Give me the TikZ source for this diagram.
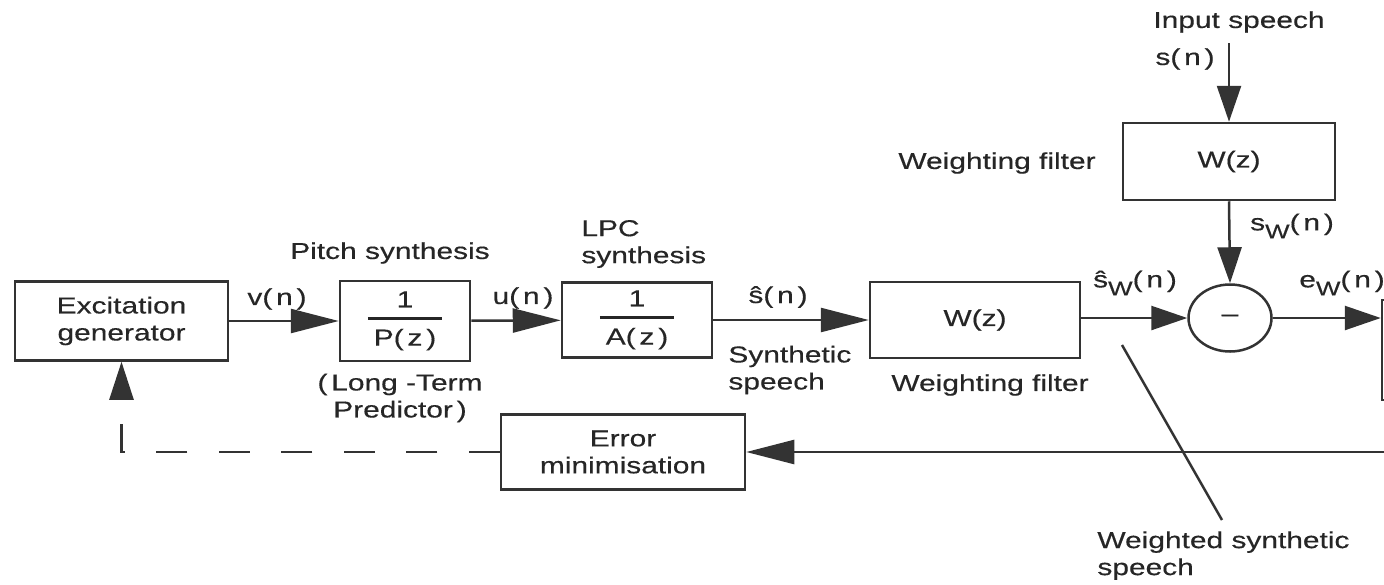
\documentclass[tikz,border=0pt]{standalone}
\usepackage{fontspec}
\setmainfont{Liberation Sans}[FakeStretch=1.3,FakeBold=0.4]
\usetikzlibrary{arrows.meta,shapes.geometric,calc}
\newcommand\myfrac[2]{{\setlength{\arrayrulewidth}{1.1pt}\begin{tabular}{@{\hspace{3pt}}c@{\hspace{3pt}}}#1\\[1pt]\hline\rule{0pt}{13pt}#2\end{tabular}}}
\newcommand\subW{\raisebox{-4pt}{\fontsize{10}{10}\selectfont W}}
\begin{document}
\begin{tikzpicture}[x=0.5pt,y=-0.5pt,
  every node/.style={font=\fontsize{11.5}{13.5}\selectfont, text=black!85},
  blk/.style={draw=black!80, line width=1.25pt, inner sep=0pt, align=center},
  lbl/.style={inner sep=0pt, align=center},
  conn/.style={draw=black!80, line width=1.25pt},
  arr/.style={conn, -{Triangle[length=18pt,width=12pt]}},
  arrlong/.style={conn, -{Triangle[length=24pt,width=12pt]}},
  fbdash/.style={conn, dash pattern=on 15.5pt off 15.75pt, -{Triangle[length=19pt,width=12pt]}}
]
\useasboundingbox (0,0) rectangle (1384,584);

% blocks
\node[blk, minimum width=106.5pt, minimum height=39.5pt] (exc) at (121.5,321) {Excitation\\generator};
\node[blk, minimum width=65pt, minimum height=40pt] (pz) at (405,321) {\myfrac{1}{P(\,z\,)}};
\node[blk, minimum width=75pt, minimum height=37.5pt] (az) at (637,320) {\myfrac{1}{A(\,z\,)}};
\node[blk, minimum width=105pt, minimum height=38pt] (wl) at (975,320) {W(z)};
\node[blk, minimum width=106pt, minimum height=38.5pt] (wt) at (1229,161.5) {W(z)};
\node[blk, ellipse, minimum width=41.5pt, minimum height=33.5pt] (ell) at (1230,318) {--};
\node[blk, minimum width=122pt, minimum height=37.5pt] (err) at (623,452) {Error\\minimisation};
\node[blk, minimum width=50pt, minimum height=50pt] (nxt) at (1432,350) {};

% free ends
\coordinate (inp) at (1229,43);
\coordinate (fb) at (1384,452);
\coordinate (lt) at (1122,345);
\coordinate (lb) at (1222,520);

% connectors
\draw[arrlong] (exc) -- (pz);
\draw[arrlong] (pz) -- (az);
\draw[arrlong] (az) -- (wl);
\draw[arr] (wl.east |- ell.west) -- (ell.west);
\draw[arr] (inp) -- (wt.north);
\draw[arr] (wt.south) -- (ell.north);
\draw[arr] (ell.east) -- (ell.east -| nxt.west);
\draw[arrlong] (fb) -- (err.east);
\draw[fbdash] (err.west) -| (exc.south);
\draw[conn] (lt) -- (lb);

% labels
\node[lbl] (lpitch) at (390,253) {Pitch synthesis};
\node[lbl, anchor=west, align=left] (llpc) at (581,244) {LPC\\synthesis};
\node[lbl] (lvn) at (277,299) {v(\,n\,)};
\node[lbl] (lun) at (523,298) {u(\,n\,)};
\node[lbl] (lsh) at (778,297) {ŝ(\,n\,)};
\node[lbl, anchor=west, align=left] (lsyn) at (728,370) {Synthetic\\speech};
\node[lbl] (lltp) at (400,398) {(\,Long -Term\\Predictor\,)};
\node[lbl] (lwf1) at (997,163) {Weighting filter};
\node[lbl] (lwf2) at (990,385) {Weighting filter};
\node[lbl] (linp) at (1239,22) {Input speech};
\node[lbl] (lsn) at (1185,59) {s(\,n\,)};
\node[lbl] (lsw) at (1292,226) {s\subW(\,n\,)};
\node[lbl] (lshw) at (1135,283) {ŝ\subW(\,n\,)};
\node[lbl] (lew) at (1342,283) {e\subW(\,n\,)};
\node[lbl, anchor=north west, align=left] (lwss) at (1097,531) {Weighted synthetic\\speech};
\end{tikzpicture}
\end{document}
